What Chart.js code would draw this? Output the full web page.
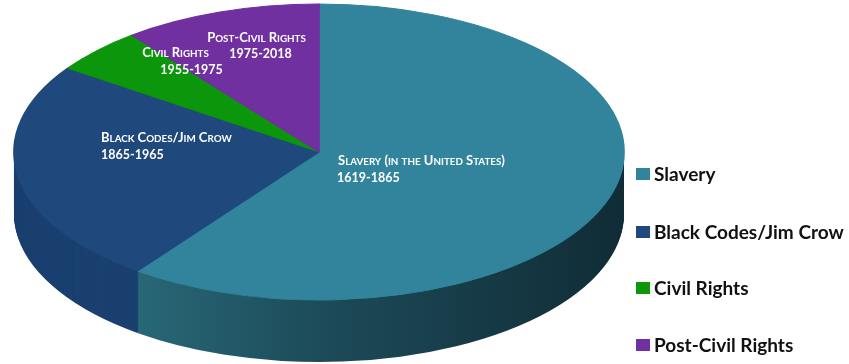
<!DOCTYPE html>
<html><head><meta charset="utf-8">
<script src="https://cdn.jsdelivr.net/npm/chart.js@4"></script>
<style>html,body{margin:0;padding:0;background:#fff;} canvas{display:block;}</style>
</head><body>
<canvas id="c" width="849" height="364"></canvas>
<script>
// ---- data ----
const categories = ['Slavery', 'Black Codes/Jim Crow', 'Civil Rights', 'Post-Civil Rights'];
const spanYears = [246, 100, 20, 43];
const sliceTitles = ['Slavery (in the United States)', 'Black Codes/Jim Crow', 'Civil Rights', 'Post-Civil Rights'];
const sliceRanges = ['1619-1865', '1865-1965', '1955-1975', '1975-2018'];

// ---- styles ----
const topColors = ['#31849b', '#1f497d', '#0b960b', '#7030a0'];
const sideColors = ['#1f5866', '#1a4070', '#087008', '#56257c'];
const PIE = { cx: 319, cy: 152, rx: 305, ry: 148, depth: 62 };
const labelLayout = [
  { align: 'left', l1: [338, 160], l2: [337, 177] },
  { align: 'left', l1: [101, 137], l2: [101, 154] },
  { align: 'center', l1: [175.5, 52], l2: [191.5, 69] },
  { align: 'center', l1: [256.5, 37], l2: [260.5, 53] }
];
const CAP_FONT = 'bold 13px Lato', SMALL_FONT = 'bold 9.8px Lato', NUM_FONT = 'bold 12.5px Lato';
const legendLayout = { boxX: 636, boxW: 14, boxH: 12, textX: 654, ys: [174, 232, 288, 345], font: 'bold 19px Lato' };

function withPieTransform(ctx, arc, fn) {
  const R = arc.outerRadius;
  const sx = PIE.rx / R, sy = PIE.ry / R;
  ctx.save();
  ctx.translate(PIE.cx, PIE.cy);
  ctx.scale(sx, sy);
  ctx.translate(-arc.x, -arc.y);
  fn(sx, sy);
  ctx.restore();
}

// small-caps text: uppercase letters at cap size, others uppercased at small size
function smallCapsRuns(text) {
  const runs = [];
  for (const ch of text) {
    const big = !(ch >= 'a' && ch <= 'z');
    const last = runs[runs.length - 1];
    if (last && last.big === big) last.t += ch; else runs.push({ big, t: ch });
  }
  return runs.map(r => ({ font: r.big ? CAP_FONT : SMALL_FONT, t: r.t.toUpperCase() }));
}
function drawSmallCaps(ctx, text, x, y, align) {
  const runs = smallCapsRuns(text);
  let w = 0;
  runs.forEach(r => { ctx.font = r.font; r.w = ctx.measureText(r.t).width; w += r.w; });
  let cx = align === 'center' ? x - w / 2 : x;
  ctx.textAlign = 'left';
  runs.forEach(r => { ctx.font = r.font; ctx.fillText(r.t, cx, y); cx += r.w; });
}

const pie3d = {
  id: 'pie3d',
  beforeDatasetsDraw(chart) {
    const ctx = chart.ctx;
    const arcs = chart.getDatasetMeta(0).data;
    // side walls, back to front
    for (let i = arcs.length - 1; i >= 0; i--) {
      const arc = arcs[i];
      const orig = arc.options;
      withPieTransform(ctx, arc, (sx, sy) => {
        let fill = sideColors[i];
        if (i === 0) {
          const lx = X => arc.x + (X - PIE.cx) / sx;
          const g = ctx.createLinearGradient(lx(70), 0, lx(625), 0);
          g.addColorStop(0, '#2c7282');
          g.addColorStop(0.45, '#1d4b59');
          g.addColorStop(1, '#102c36');
          fill = g;
        }
        arc.options = Object.assign({}, orig, { backgroundColor: fill, borderWidth: 0 });
        for (let d = PIE.depth; d > 0; d -= 1) {
          ctx.save();
          ctx.translate(0, d / sy);
          arc.draw(ctx);
          ctx.restore();
        }
        arc.options = orig;
      });
    }
    // top faces
    arcs.forEach(arc => withPieTransform(ctx, arc, () => arc.draw(ctx)));
    // slice labels
    ctx.save();
    ctx.fillStyle = '#ffffff';
    ctx.textBaseline = 'alphabetic';
    sliceTitles.forEach((t, i) => {
      const L = labelLayout[i];
      drawSmallCaps(ctx, t, L.l1[0], L.l1[1] + 5, L.align);
    });
    ctx.font = NUM_FONT;
    sliceRanges.forEach((t, i) => {
      const L = labelLayout[i];
      ctx.textAlign = L.align;
      ctx.fillText(t, L.l2[0], L.l2[1] + 5);
    });
    ctx.restore();
    return false;
  },
  afterDraw(chart) {
    const ctx = chart.ctx;
    const ds = chart.data.datasets[0];
    ctx.save();
    ctx.font = legendLayout.font;
    ctx.textBaseline = 'middle';
    ctx.textAlign = 'left';
    chart.data.labels.forEach((lab, i) => {
      const y = legendLayout.ys[i];
      ctx.fillStyle = ds.backgroundColor[i];
      ctx.fillRect(legendLayout.boxX, y - legendLayout.boxH / 2, legendLayout.boxW, legendLayout.boxH);
      ctx.fillStyle = '#111111';
      ctx.fillText(lab, legendLayout.textX, y + 1);
    });
    ctx.restore();
  }
};

new Chart(document.getElementById('c'), {
  type: 'pie',
  data: {
    labels: categories,
    datasets: [{
      data: spanYears,
      backgroundColor: topColors,
      borderColor: topColors,
      borderWidth: 1
    }]
  },
  options: {
    responsive: false,
    devicePixelRatio: 1,
    animation: false,
    layout: { padding: { right: 220 } },
    plugins: { legend: { display: false }, tooltip: { enabled: false } }
  },
  plugins: [pie3d]
});
</script>
</body></html>
